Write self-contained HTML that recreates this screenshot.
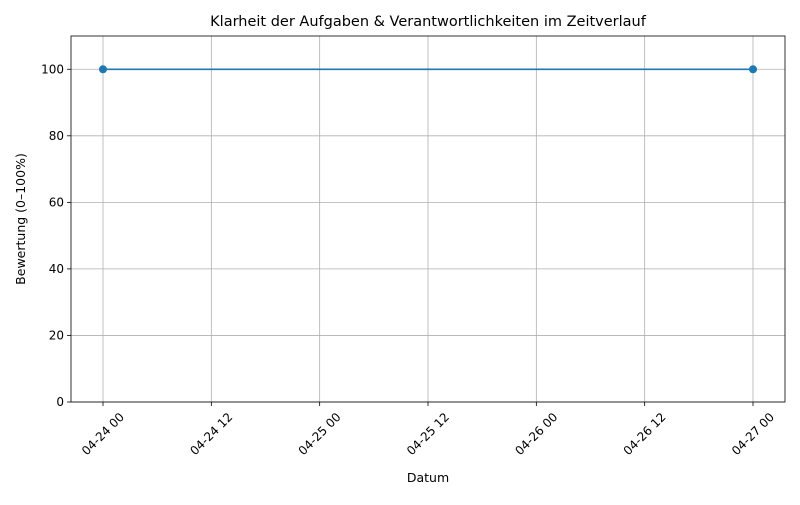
<!DOCTYPE html>
<html><head><meta charset="utf-8"><style>
body{margin:0;background:#fff;}
svg text{font-family:"DejaVu Sans","Liberation Sans",sans-serif;fill:#000;}
</style></head><body>
<svg width="800" height="500" viewBox="0 0 800 500">
<rect width="800" height="500" fill="#fff"/>
<g id="grid"></g>
<g id="axes"></g>
<g id="series"></g>
<text x="428" y="26" font-size="14.5" text-anchor="middle">Klarheit der Aufgaben &amp; Verantwortlichkeiten im Zeitverlauf</text>
<text x="428" y="482" font-size="12.5" text-anchor="middle">Datum</text>
<text transform="translate(25,219) rotate(-90)" font-size="12.5" text-anchor="middle">Bewertung (0–100%)</text>
</svg>
<script>
const xTickHours = [0, 12, 24, 36, 48, 60, 72];
const xTickLabels = ["04-24 00","04-24 12","04-25 00","04-25 12","04-26 00","04-26 12","04-27 00"];
const yTicks = [0, 20, 40, 60, 80, 100];
const pointHours = [0, 72];
const pointValues = [100, 100];

const L=71,R=785,T=36,B=402;
const xs=h=>103+h*(650/72);
const ys=v=>B-(v/110)*(B-T);
const NS="http://www.w3.org/2000/svg";
function mk(tag,attrs,parent){const e=document.createElementNS(NS,tag);for(const k in attrs)e.setAttribute(k,attrs[k]);parent.appendChild(e);return e;}
const grid=document.getElementById('grid'),axes=document.getElementById('axes'),ser=document.getElementById('series');
xTickHours.forEach((h,i)=>{
  const x=xs(h);
  const g=mk('line',{x1:x,x2:x,y1:T,y2:B,stroke:'#b0b0b0','stroke-width':0.8},grid);
  
  
  mk('line',{x1:x,x2:x,y1:B,y2:B+4,stroke:'#000','stroke-width':0.8},axes);
  const t=mk('text',{transform:`translate(${x},${B+32}) rotate(-45)`,'font-size':12,'text-anchor':'middle','dominant-baseline':'central'},axes);
  t.textContent=xTickLabels[i];
  
  
});
yTicks.forEach(v=>{
  const y=ys(v);
  const g=mk('line',{x1:L,x2:R,y1:y,y2:y,stroke:'#b0b0b0','stroke-width':0.8},grid);
  
  
  mk('line',{x1:L-4,x2:L,y1:y,y2:y,stroke:'#000','stroke-width':0.8},axes);
  const t=mk('text',{x:L-7,y:y+4,'font-size':12,'text-anchor':'end'},axes);
  t.textContent=v;
  
  
});
const fr=mk('rect',{x:L,y:T,width:R-L,height:B-T,fill:'none',stroke:'#000','stroke-width':0.8},axes);


const pts=pointHours.map((h,i)=>xs(h)+','+ys(pointValues[i])).join(' ');
const pl=mk('polyline',{points:pts,fill:'none',stroke:'#1f77b4','stroke-width':1.6},ser);


pointHours.forEach((h,i)=>{
  const c=mk('circle',{cx:xs(h),cy:ys(pointValues[i]),r:4,fill:'#1f77b4'},ser);
  
  
});
</script>
</body></html>
